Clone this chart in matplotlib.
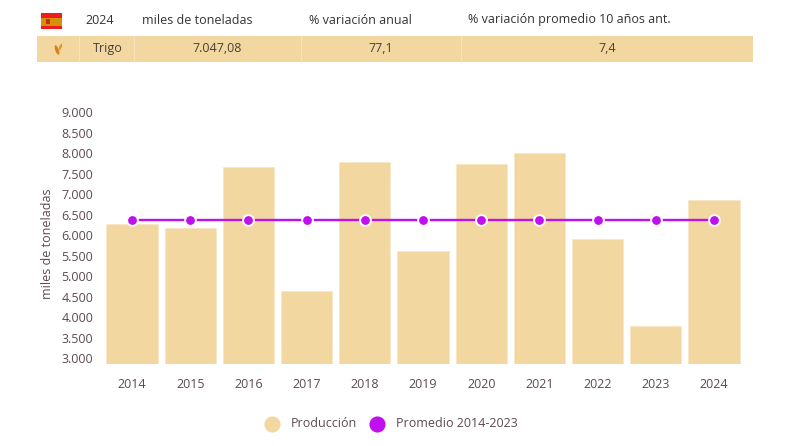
import numpy as np
import matplotlib
matplotlib.use('Agg')
import matplotlib.pyplot as plt
from matplotlib.patches import Rectangle, Ellipse

years = [2014, 2015, 2016, 2017, 2018, 2019, 2020, 2021, 2022, 2023, 2024]
produccion = [6270, 6170, 7670, 4640, 7790, 5610, 7740, 8010, 5900, 3790, 6860]
promedio = [6365, 6365, 6365, 6365, 6365, 6365, 6365, 6365, 6365, 6365, 6365]
yticks = [3000, 3500, 4000, 4500, 5000, 5500, 6000, 6500, 7000, 7500, 8000, 8500, 9000]
ylabels = ['3.000', '3.500', '4.000', '4.500', '5.000', '5.500', '6.000', '6.500', '7.000', '7.500', '8.000', '8.500', '9.000']

header = ['2024', 'miles de toneladas', '% variación anual', '% variación promedio 10 años ant.']
header_x = [100, 197, 360, 569]
row = ['Trigo', '7.047,08', '77,1', '7,4']
row_x = [107.5, 217, 381, 607]
row_sep = [79, 134, 301, 461]

W, H = 792, 446
tan = '#f2d8a0'
purple = '#c010f0'
txt = '#5c4a4e'
plt.rcParams['font.family'] = ['Open Sans', 'DejaVu Sans']

fig = plt.figure(figsize=(W/100, H/100), dpi=100)

# overlay in pixel coords for the table on top
bg = fig.add_axes([0, 0, 1, 1])
bg.set_xlim(0, W)
bg.set_ylim(H, 0)
bg.axis('off')

# flag
bg.add_patch(Rectangle((41, 13), 21, 16, color='#f01c1c', lw=0))
bg.add_patch(Rectangle((41, 17.5), 21, 8, color='#d8900a', lw=0))
bg.add_patch(Rectangle((46, 19), 4, 4.5, color='#c0301c', lw=0))

for s, x in zip(header, header_x):
    bg.text(x, 20, s, ha='center', va='center', fontsize=9, color='#333333')

bg.add_patch(Rectangle((37, 36), 716, 26, color=tan, lw=0))
for x in row_sep:
    bg.plot([x, x], [36, 62], color='#f7e6c4', lw=0.6)
for s, x in zip(row, row_x):
    bg.text(x, 48.5, s, ha='center', va='center', fontsize=9, color='#4a3f3a')

# wheat icon
bg.add_patch(Ellipse((57, 50), 3.5, 10, angle=-20, color='#d9801a', lw=0))
bg.add_patch(Ellipse((60.5, 47), 2.5, 7, angle=20, color='#e09a30', lw=0))

# main chart
left, right, top, bottom = 103, 743, 100, 364
ax = fig.add_axes([left/W, 1-bottom/H, (right-left)/W, (bottom-top)/H])
ax.patch.set_alpha(0)
ax.bar(years, produccion, width=0.88, color=tan, edgecolor='#f7e6c4', lw=0.5, zorder=1)
ax.plot(years, promedio, color=purple, lw=1.7, zorder=2)
ax.scatter(years, promedio, s=60, color=purple, edgecolor='white', lw=1.4, zorder=3)

ax.set_xlim(2014-29/58.2, 2024+29/58.2)
ax.set_ylim(2855, 9295)
ax.set_xticks(years)
ax.set_xticklabels(years)
ax.set_yticks(yticks)
ax.set_yticklabels(ylabels)
ax.tick_params(length=0, labelsize=9, labelcolor=txt)
ax.tick_params(axis='x', pad=10)
ax.tick_params(axis='y', pad=7)
for sp in ax.spines.values():
    sp.set_visible(False)
ax.set_ylabel('miles de toneladas', fontsize=9, color=txt)
ax.yaxis.set_label_coords((54-left)/(right-left), 0.4545)

# legend
bg.scatter([272], [424], s=135, color=tan, lw=0)
bg.text(291, 423.5, 'Producción', va='center', fontsize=9, color=txt)
bg.scatter([377], [424], s=135, color=purple, lw=0)
bg.text(396, 423.5, 'Promedio 2014-2023', va='center', fontsize=9, color=txt)

fig.savefig('out.png', dpi=100)
